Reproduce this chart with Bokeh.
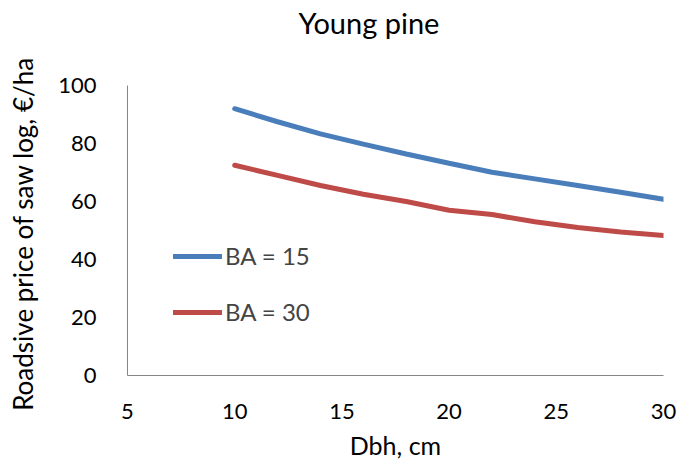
from bokeh.plotting import figure
from bokeh.models import Range1d, FixedTicker, Legend, LegendItem, Title
from bokeh.embed import file_html
from bokeh.resources import INLINE

dbh = [10, 12, 14, 16, 18, 20, 22, 24, 26, 28, 30]
ba15 = [92.0, 87.5, 83.3, 79.8, 76.4, 73.2, 70.1, 67.8, 65.5, 63.2, 60.8]
ba30 = [72.5, 69.0, 65.5, 62.5, 60.0, 57.0, 55.5, 53.0, 51.0, 49.5, 48.3]
x_ticks = [5, 10, 15, 20, 25, 30]
y_ticks = [0, 20, 40, 60, 80, 100]
title_text = "Young pine"

FONT = "Lato"

p = figure(width=677, height=464, output_backend="svg", toolbar_location=None,
           x_range=Range1d(5, 30), y_range=Range1d(0, 100),
           min_border_left=127, min_border_right=14, min_border_top=85,
           min_border_bottom=89, title=title_text)
p.title.align = "left"
p.title.offset = 171
p.title.standoff = 0
p.title.text_font = FONT
p.title.text_font_size = "29px"
p.title.text_font_style = "normal"
p.title.text_color = "black"

# blank spacer between the title and the plot frame
p.add_layout(Title(text=" ", text_font_size="10px", standoff=33), "above")

p.xgrid.visible = False
p.ygrid.visible = False
p.outline_line_color = None

for ax in (p.xaxis[0], p.yaxis[0]):
    ax.axis_line_color = "#868686"
    ax.major_tick_line_color = None
    ax.minor_tick_line_color = None
    ax.major_label_text_font = FONT
    ax.major_label_text_font_size = "22px"
    ax.major_label_text_color = "black"
    ax.axis_label_text_font = FONT
    ax.axis_label_text_font_size = "25px"
    ax.axis_label_text_font_style = "normal"
    ax.axis_label_text_color = "black"

p.yaxis.axis_label_text_font_size = "26px"
p.xaxis.ticker = FixedTicker(ticks=x_ticks)
p.yaxis.ticker = FixedTicker(ticks=y_ticks)
p.xaxis.axis_label = "Dbh, cm"
p.yaxis.axis_label = "Roadsive price of saw log,  €/ha"
p.xaxis.major_label_standoff = 22
p.yaxis.major_label_standoff = 25
p.xaxis.axis_label_standoff = 8
p.yaxis.axis_label_standoff = 16

r1 = p.line(dbh, ba15, line_color="#4A7EBB", line_width=5, line_cap="round")
r2 = p.line(dbh, ba30, line_color="#BE4B48", line_width=5, line_cap="round")

legend = Legend(items=[LegendItem(label="BA = 15", renderers=[r1]),
                       LegendItem(label="BA = 30", renderers=[r2])],
                location=(46, 49), orientation="vertical",
                background_fill_alpha=0, border_line_color=None,
                padding=0, margin=0, spacing=27, glyph_width=49,
                glyph_height=22, label_height=22, label_standoff=3,
                label_text_font=FONT, label_text_font_size="24px")
p.add_layout(legend, "center")

open("out.html", "w").write(file_html(p, INLINE))
